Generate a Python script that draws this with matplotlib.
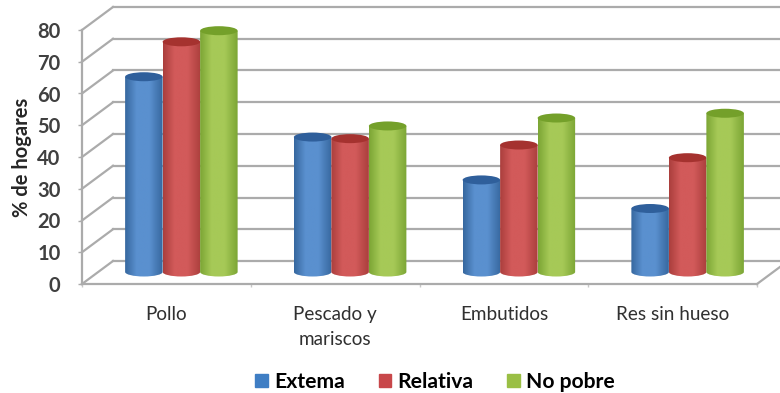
import numpy as np
import matplotlib
matplotlib.use('Agg')
import matplotlib.pyplot as plt
from matplotlib.colors import LinearSegmentedColormap
from matplotlib.patches import Ellipse, Patch, PathPatch
from matplotlib.path import Path

categories = ['Pollo', 'Pescado y\nmariscos', 'Embutidos', 'Res sin hueso']
extrema = [61.5, 42.5, 29, 20]
relativa = [72.5, 42, 40, 36]
no_pobre = [76, 46, 48.5, 50]
series_names = ['Extema', 'Relativa', 'No pobre']
yticks = [0, 10, 20, 30, 40, 50, 60, 70, 80]

W, H = 780, 393
plt.rcParams['font.family'] = ['Lato', 'DejaVu Sans']

fig = plt.figure(figsize=(W / 100, H / 100), dpi=100)
# plot box in pixels: front floor edge 82-757, value axis 284-30
ax = fig.add_axes([82 / W, 1 - 284 / H, 675 / W, 254 / H])
ax.patch.set_visible(False)

px_x = 4 / 675
px_y = 80 / 254
grid_col = '#ababab'

# 3d box: back wall lines and side wall diagonals
back_dx, back_dy = 31 * px_x, 23 * px_y
for v in yticks:
    ax.plot([0, back_dx], [v, v + back_dy], color=grid_col, lw=1.6, clip_on=False, zorder=1)
    ax.plot([back_dx, 4 + back_dx], [v + back_dy, v + back_dy], color=grid_col, lw=1.6,
            clip_on=False, zorder=1)
ax.plot([4, 4 + back_dx], [0, back_dy], color=grid_col, lw=1.6, clip_on=False, zorder=1)

# bars stand halfway into the floor
mid_dx, mid_dy = 15 * px_x, 12 * px_y
bar_w = 37.5 * px_x
ell_h = 9 * px_y


def make_cmap(dark, light):
    return LinearSegmentedColormap.from_list('c', [(0, dark), (0.3, light), (0.65, light), (1, dark)])


styles = [
    (extrema, make_cmap('#37689f', '#5a90cf'), '#2f5f9b'),
    (relativa, make_cmap('#ab3f3d', '#d25a5a'), '#a5322f'),
    (no_pobre, make_cmap('#7ca635', '#a6c957'), '#74a02a'),
]
gradient = np.linspace(0, 1, 64).reshape(1, -1)

for s, (vals, cmap, top_col) in enumerate(styles):
    for i, v in enumerate(vals):
        xc = i + 0.5 + mid_dx + (s - 1) * bar_w
        left, right = xc - bar_w / 2, xc + bar_w / 2
        base, top = mid_dy, v + mid_dy
        z = 3 + s
        # cylinder body with rounded bottom
        k = 0.5523
        rx, ry = bar_w / 2, ell_h / 2
        verts = [(left, top), (left, base),
                 (left, base - k * ry), (xc - k * rx, base - ry), (xc, base - ry),
                 (xc + k * rx, base - ry), (right, base - k * ry), (right, base),
                 (right, top), (left, top)]
        codes = [Path.MOVETO, Path.LINETO,
                 Path.CURVE4, Path.CURVE4, Path.CURVE4,
                 Path.CURVE4, Path.CURVE4, Path.CURVE4,
                 Path.LINETO, Path.CLOSEPOLY]
        body = PathPatch(Path(verts, codes), facecolor='none', edgecolor='none', zorder=z)
        ax.add_patch(body)
        im = ax.imshow(gradient, cmap=cmap, extent=[left, right, base - ry, top], aspect='auto',
                       zorder=z, interpolation='bilinear')
        im.set_clip_path(body)
        ax.add_patch(Ellipse((xc, top), bar_w, ell_h, facecolor=top_col, edgecolor='none', zorder=z,
                             clip_on=False))

ax.set_xlim(0, 4)
ax.set_ylim(0, 80)

for side in ['top', 'right']:
    ax.spines[side].set_visible(False)
for side in ['left', 'bottom']:
    ax.spines[side].set_color(grid_col)
    ax.spines[side].set_linewidth(1.6)

ax.set_yticks(yticks)
ax.set_xticks([0, 1, 2, 3, 4])
ax.set_xticklabels([])
ax.tick_params(axis='x', which='major', length=2, width=1, color='#c8c8c8')
ax.tick_params(axis='y', length=3, width=1, color=grid_col, pad=12.5, labelsize=14.5, labelcolor='#404040')
for t in ax.get_yticklabels():
    t.set_fontweight('bold')

# category labels sit under each group
for i, name in enumerate(categories):
    ax.annotate(name, xy=(i + 0.5, 0), xycoords='data', xytext=(0, -22),
                textcoords='offset pixels', ha='center', va='top', fontsize=13.6, color='#303030',
                linespacing=1.6, annotation_clip=False)
ax.set_ylabel('% de hogares', fontsize=14.5, fontweight='bold', color='#262626', labelpad=4)

handles = [Patch(color=c) for c in ['#3f7ec4', '#c8474a', '#9abf45']]
fig.legend(handles, series_names, ncol=3, frameon=False, loc='center', bbox_to_anchor=(435 / W, 1 - 382 / H),
           prop={'weight': 'bold', 'size': 15.2}, handlelength=0.6, handleheight=0.6, handletextpad=0.3,
           columnspacing=1.6)

fig.savefig('out.png', dpi=100)
